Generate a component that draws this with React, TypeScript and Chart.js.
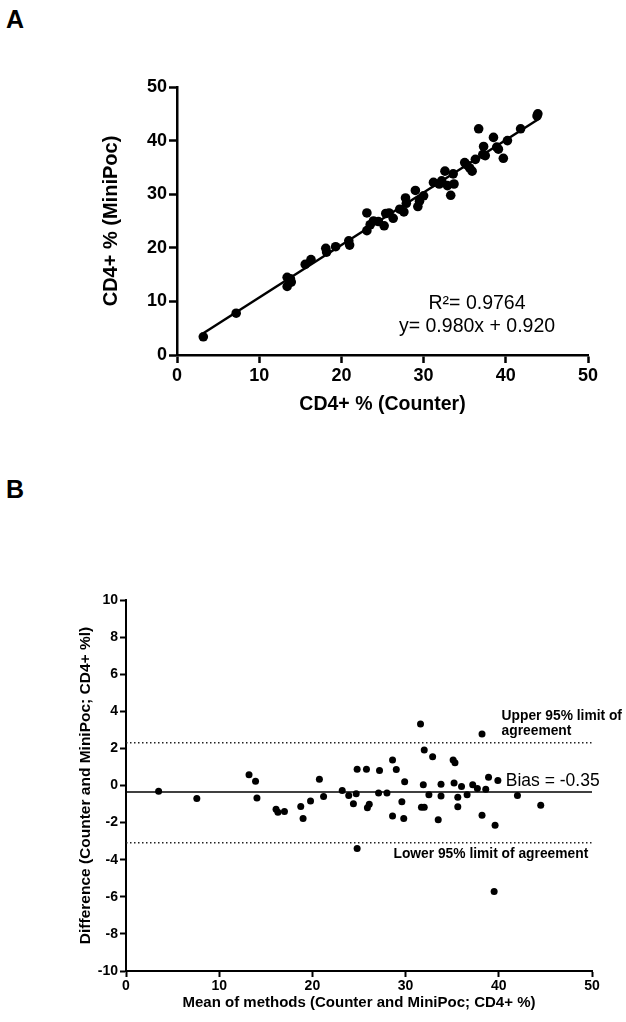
import React, { useEffect, useRef } from "react";
import { Chart, registerables } from "chart.js";

Chart.register(...registerables);

const FONT = "'Liberation Sans', Arial, Helvetica, sans-serif";

// ---------- Panel A: correlation ----------
const counterPct = [
  3.2, 7.2, 13.4, 13.9, 13.4, 13.8, 15.6, 16.3, 18.1, 18.2, 19.3, 20.9, 21.0,
  23.1, 23.1, 23.5, 23.9, 24.5, 25.2, 25.4, 25.8, 26.3, 27.1, 27.6, 27.8, 27.9,
  29.0, 29.3, 29.5, 30.0, 31.2, 31.9, 32.2, 32.6, 32.9, 33.3, 33.6, 33.7, 35.0,
  35.2, 35.6, 35.9, 36.3, 36.7, 37.2, 37.3, 37.5, 38.5, 38.9, 39.1, 39.7, 40.2,
  41.8, 43.8, 43.9,
];
const miniPocPct = [
  3.4, 7.8, 14.5, 13.6, 12.8, 14.2, 16.9, 17.8, 19.9, 19.2, 20.2, 21.3, 20.5,
  26.5, 23.2, 24.3, 25.0, 24.9, 24.1, 26.4, 26.5, 25.5, 27.2, 26.7, 29.3, 28.3,
  30.7, 27.7, 28.7, 29.7, 32.2, 31.9, 32.5, 34.3, 31.6, 29.8, 33.8, 31.9, 35.9,
  35.5, 34.9, 34.3, 36.5, 42.2, 37.4, 38.9, 37.2, 40.6, 38.8, 38.4, 36.7, 40.0,
  42.2, 44.6, 45.0,
];
const fitSlope = 0.98;
const fitIntercept = 0.92;
const fitXRange = [3.2, 44.0];
const r2Label = "R\u00B2= 0.9764";
const eqLabel = "y= 0.980x + 0.920";

// ---------- Panel B: Bland-Altman ----------
const meanPct = [
  3.5, 7.6, 13.2, 13.9, 14.05, 16.1, 16.3, 17.0, 18.75, 19.0, 19.8, 20.75, 21.2,
  23.2, 23.9, 24.4, 24.8, 24.7, 24.8, 25.8, 25.9, 26.1, 27.2, 27.1, 28.0, 28.6,
  28.6, 29.0, 29.6, 29.8, 29.9, 31.6, 31.7, 32.0, 31.9, 32.0, 32.5, 32.9, 33.5,
  33.8, 33.8, 35.1, 35.3, 35.2, 35.6, 35.6, 36.0, 36.6, 37.2, 37.7, 38.2, 38.2,
  38.6, 38.9, 39.6, 39.5, 39.9, 42.0, 44.5,
];
const diffPct = [
  -0.31, -0.70, 0.58, 0.23, -0.68, -1.28, -1.44, -1.40, -1.13, -1.78, -0.84,
  0.34, -0.59, -0.27, -0.54, -0.99, 0.88, -0.45, -3.40, 0.88, -1.20, -1.01,
  0.81, -0.41, -0.41, -1.65, 1.37, 0.86, -0.88, -1.78, 0.20, 3.31, -1.17,
  -1.17, 0.04, 1.92, -0.50, 1.55, -1.85, 0.07, -0.56, 1.37, 1.22, 0.14, -1.15,
  -0.63, -0.05, -0.50, 0.04, -0.16, -1.60, 2.77, -0.20, 0.45, -2.14, -5.71,
  0.27, -0.54, -1.06,
];
const bias = -0.35;
const upperLoA = 2.31;
const lowerLoA = -3.08;
const biasLabel = "Bias = -0.35";
const upperLabel = ["Upper 95% limit of", "agreement"];
const lowerLabel = "Lower 95% limit of agreement";

const axisRange = [0, 50];
const diffRange = [-10, 10];

function axisStyle(lineW: number, tickLen: number) {
  return {
    border: { display: true, color: "#000", width: lineW },
    grid: {
      display: true,
      drawOnChartArea: false,
      drawTicks: true,
      tickLength: tickLen,
      tickColor: "#000",
      tickWidth: lineW,
    },
  };
}

function ChartA() {
  const ref = useRef<HTMLCanvasElement | null>(null);
  useEffect(() => {
    if (!ref.current) return;
    const points = counterPct.map((x, i) => ({ x, y: miniPocPct[i] }));
    const fit = fitXRange.map((x) => ({ x, y: fitSlope * x + fitIntercept }));
    const textPlugin = {
      id: "textA",
      afterDatasetsDraw(chart: any) {
        const { ctx, scales } = chart;
        const sx = scales.x, sy = scales.y;
        ctx.save();
        ctx.fillStyle = "#000";
        ctx.font = `19.5px ${FONT}`;
        ctx.textAlign = "center";
        ctx.textBaseline = "middle";
        ctx.fillText(r2Label, sx.getPixelForValue(36.5), sy.getPixelForValue(9.5));
        ctx.fillText(eqLabel, sx.getPixelForValue(36.5), sy.getPixelForValue(5.3));
        ctx.restore();
      },
    };
    const chart = new Chart(ref.current, {
      type: "scatter",
      data: {
        datasets: [
          {
            type: "line",
            data: fit,
            borderColor: "#000",
            borderWidth: 2.5,
            pointRadius: 0,
            fill: false,
          } as any,
          {
            data: points,
            backgroundColor: "#000",
            borderColor: "#000",
            borderWidth: 0,
            pointRadius: 4.8,
          },
        ],
      },
      options: {
        animation: false,
        responsive: false,
        devicePixelRatio: 1,
        layout: { padding: { left: 0, right: 38, top: 87, bottom: 0 } },
        plugins: { legend: { display: false }, tooltip: { enabled: false } },
        scales: {
          x: {
            type: "linear",
            min: axisRange[0],
            max: axisRange[1],
            ...axisStyle(2.5, 8),
            ticks: {
              stepSize: 10,
              color: "#000",
              padding: 2,
              maxRotation: 0,
              font: { family: FONT, size: 18, weight: "bold" },
            },
            title: {
              display: true,
              text: "CD4+ % (Counter)",
              color: "#000",
              padding: { top: 0, bottom: 13.6 },
              font: { family: FONT, size: 19.5, weight: "bold" },
            },
            afterFit(scale: any) {
              scale.height = 75;
            },
          },
          y: {
            type: "linear",
            min: axisRange[0],
            max: axisRange[1],
            ...axisStyle(2.5, 8),
            ticks: {
              stepSize: 10,
              color: "#000",
              padding: 2,
              font: { family: FONT, size: 18, weight: "bold" },
            },
            title: {
              display: true,
              text: "CD4+ % (MiniPoc)",
              color: "#000",
              padding: { top: 99, bottom: 0 },
              font: { family: FONT, size: 20, weight: "bold" },
            },
            afterFit(scale: any) {
              scale.width = 177;
            },
          },
        },
      } as any,
      plugins: [textPlugin],
    });
    return () => chart.destroy();
  }, []);
  return (
    <canvas
      ref={ref}
      width={626}
      height={430}
      style={{ position: "absolute", left: 0, top: 0, width: 626, height: 430 }}
    />
  );
}

function ChartB() {
  const ref = useRef<HTMLCanvasElement | null>(null);
  useEffect(() => {
    if (!ref.current) return;
    const points = meanPct.map((x, i) => ({ x, y: diffPct[i] }));
    const hline = (v: number) => axisRange.map((x) => ({ x, y: v }));
    const textPlugin = {
      id: "textB",
      afterDatasetsDraw(chart: any) {
        const { ctx, scales } = chart;
        const sx = scales.x, sy = scales.y;
        ctx.save();
        ctx.fillStyle = "#000";
        ctx.textAlign = "left";
        ctx.font = `bold 13.8px ${FONT}`;
        ctx.textBaseline = "alphabetic";
        ctx.fillText(upperLabel[0], sx.getPixelForValue(40.3), sy.getPixelForValue(3.52));
        ctx.fillText(upperLabel[1], sx.getPixelForValue(40.3), sy.getPixelForValue(2.71));
        ctx.fillText(lowerLabel, sx.getPixelForValue(28.7), sy.getPixelForValue(-3.92));
        ctx.font = `17.5px ${FONT}`;
        ctx.textBaseline = "middle";
        ctx.fillText(biasLabel, sx.getPixelForValue(40.75), sy.getPixelForValue(0.25));
        ctx.restore();
      },
    };
    const chart = new Chart(ref.current, {
      type: "scatter",
      data: {
        datasets: [
          {
            type: "line",
            data: hline(bias),
            borderColor: "#000",
            borderWidth: 1.6,
            pointRadius: 0,
            fill: false,
          } as any,
          {
            type: "line",
            data: hline(upperLoA),
            borderColor: "#222",
            borderWidth: 1.5,
            borderDash: [1.5, 2.5],
            pointRadius: 0,
            fill: false,
          } as any,
          {
            type: "line",
            data: hline(lowerLoA),
            borderColor: "#222",
            borderWidth: 1.5,
            borderDash: [1.5, 2.5],
            pointRadius: 0,
            fill: false,
          } as any,
          {
            data: points,
            backgroundColor: "#000",
            borderColor: "#000",
            borderWidth: 0,
            pointRadius: 3.5,
          },
        ],
      },
      options: {
        animation: false,
        responsive: false,
        devicePixelRatio: 1,
        layout: { padding: { left: 0, right: 34, top: 170, bottom: 0 } },
        plugins: { legend: { display: false }, tooltip: { enabled: false } },
        scales: {
          x: {
            type: "linear",
            min: axisRange[0],
            max: axisRange[1],
            ...axisStyle(2, 6),
            ticks: {
              stepSize: 10,
              color: "#000",
              padding: 1,
              maxRotation: 0,
              font: { family: FONT, size: 14, weight: "bold" },
            },
            title: {
              display: true,
              text: "Mean of methods (Counter and MiniPoc; CD4+ %)",
              color: "#000",
              padding: { top: 0, bottom: 10 },
              font: { family: FONT, size: 15, weight: "bold" },
            },
            afterFit(scale: any) {
              scale.height = 51;
            },
          },
          y: {
            type: "linear",
            min: diffRange[0],
            max: diffRange[1],
            ...axisStyle(2, 6),
            ticks: {
              stepSize: 2,
              color: "#000",
              padding: 2,
              font: { family: FONT, size: 14, weight: "bold" },
            },
            title: {
              display: true,
              text: "Difference (Counter and MiniPoc; CD4+ %l)",
              color: "#000",
              padding: { top: 76, bottom: 0 },
              font: { family: FONT, size: 15.5, weight: "bold" },
            },
            afterFit(scale: any) {
              scale.width = 126;
            },
          },
        },
      } as any,
      plugins: [textPlugin],
    });
    return () => chart.destroy();
  }, []);
  return (
    <canvas
      ref={ref}
      width={626}
      height={592}
      style={{ position: "absolute", left: 0, top: 430, width: 626, height: 592 }}
    />
  );
}

const panelLetter: React.CSSProperties = {
  position: "absolute",
  left: 6,
  margin: 0,
  font: `bold 25px ${FONT}`,
  lineHeight: "25px",
  color: "#000",
};

export default function App() {
  useEffect(() => {
    document.body.style.margin = "0";
    document.body.style.background = "#fff";
  }, []);
  return (
    <div style={{ position: "relative", width: 626, height: 1022, background: "#fff", overflow: "hidden" }}>
      <div style={{ ...panelLetter, top: 7 }}>A</div>
      <div style={{ ...panelLetter, top: 477 }}>B</div>
      <ChartA />
      <ChartB />
    </div>
  );
}
